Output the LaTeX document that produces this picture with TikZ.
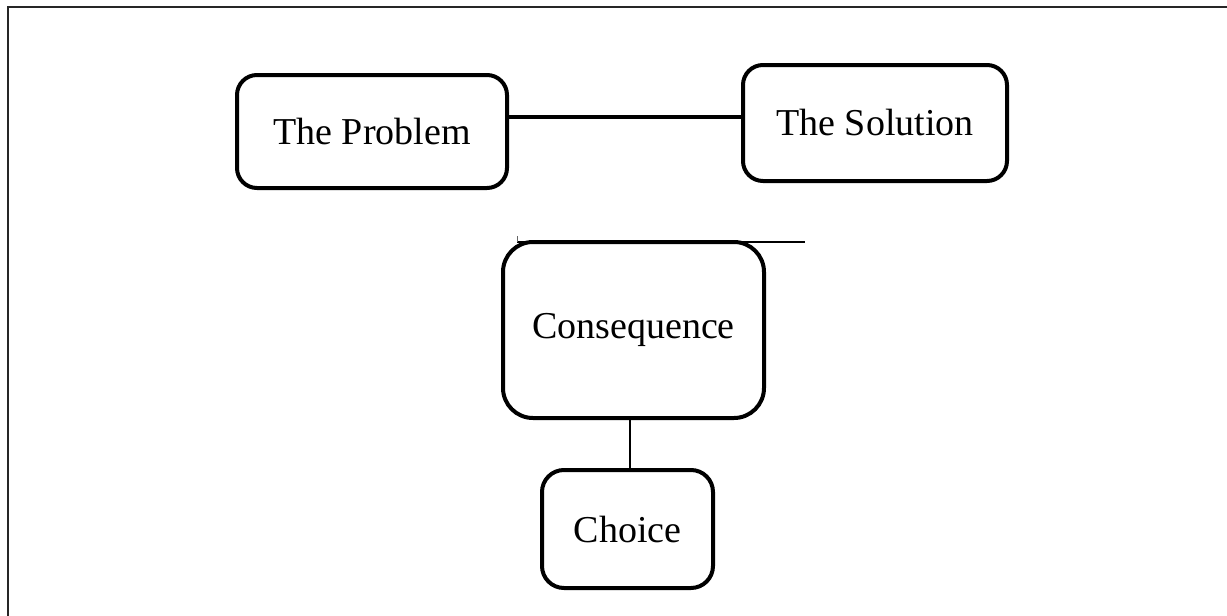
\documentclass[tikz,border=0pt]{standalone}
\usepackage{fontspec}
\setmainfont{Liberation Serif}
\begin{document}
\begin{tikzpicture}[x=1pt,y=-1pt,
  box/.style={draw=black, line width=4pt, rounded corners=20pt, inner sep=0pt,
    font=\fontsize{38}{45}\selectfont, align=center},
  conn/.style={draw=black, line width=4pt},
  thinconn/.style={draw=black, line width=2.5pt},
  frameline/.style={draw=black!85, line width=2.5pt}]
\useasboundingbox (0,0) rectangle (1227,616);
% frame
\coordinate (f0) at (8,7);
\coordinate (f1) at (1227,7);
\coordinate (f2) at (8,616);
\draw[frameline] (f2) -- (f0) -- (f1);
% nodes
\node[box, minimum width=270pt, minimum height=113pt] (P) at (372,131.5) {The Problem};
\node[box, minimum width=264pt, minimum height=116pt] (S) at (875,123) {The Solution};
\node[box, rounded corners=30pt, minimum width=261pt, minimum height=176pt] (C) at (633.5,330) {Consequence};
\node[box, rounded corners=22pt, minimum width=171pt, minimum height=118pt] (Ch) at (627.5,529) {Choice};
% connectors
\coordinate (hy) at (0,117);
\draw[conn] (P.east |- hy) -- (S.west |- hy);
\coordinate (vx) at (630,0);
\draw[thinconn] (C.south -| vx) -- (Ch.north -| vx);
% stray thin line on top of Consequence
\coordinate (t0) at (517,242);
\coordinate (t1) at (805,242);
\coordinate (t2) at (517,236);
\draw[line width=2pt] (t0) -- (t1);
\draw[line width=0.8pt, black!60] (t2) -- (t0);
\end{tikzpicture}
\end{document}
